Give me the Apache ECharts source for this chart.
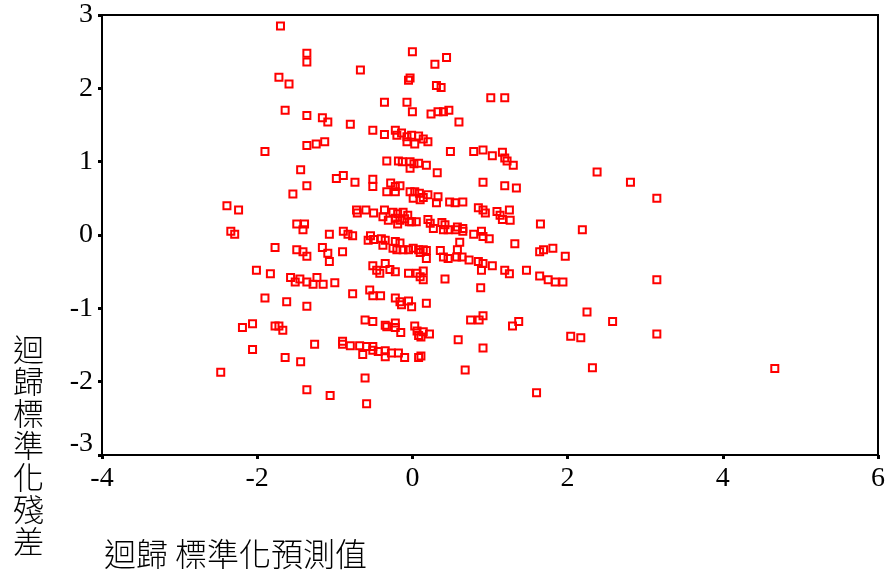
<!DOCTYPE html>
<html><head><meta charset="utf-8">
<script src="https://cdn.jsdelivr.net/npm/echarts@6/dist/echarts.min.js"></script>
<style>html,body{margin:0;padding:0;background:#fff}#c{width:888px;height:580px}</style>
</head><body><div id="c"></div><script>
// [predicted (standardized), residual (standardized)]
const leftUpper = [[-1.70,2.85],[-1.36,2.48],[-1.36,2.36],[-1.72,2.15],[-1.59,2.06],[-1.64,1.70],[-1.36,1.63],[-1.16,1.60],[-1.09,1.54],[-1.36,1.22],[-1.24,1.24],[-1.13,1.27],[-1.90,1.14]];
const centerUpper = [[0.00,2.50],[0.44,2.42],[0.29,2.33],[-0.67,2.25],[-0.03,2.14],[-0.05,2.11],[0.31,2.04],[0.37,2.01],[-0.36,1.81],[-0.07,1.81],
[0.00,1.68],[0.24,1.65],[0.33,1.68],[0.40,1.68],[0.47,1.70],[-0.80,1.51],[-0.51,1.43],[0.60,1.54],[-0.36,1.37],[-0.22,1.43],
[-0.20,1.36],[-0.14,1.39],[-0.07,1.34],[-0.01,1.36],[0.08,1.35],[0.14,1.31],[0.20,1.27],[0.03,1.24],[-0.07,1.27],[0.49,1.14],
[-0.33,1.01],[-0.18,1.01],[-0.13,1.00],[-0.03,1.00],[0.02,0.97],[0.08,0.98],[0.18,0.95],[-0.03,0.91],[0.32,0.85]];
const rightUpper = [[1.01,1.87],[1.19,1.87],[0.79,1.14],[0.91,1.16],[1.03,1.08],[1.16,1.13],[1.19,1.05],[1.22,1.01],[1.30,0.95]];
const leftMiddle = [[-1.44,0.89],[-1.36,0.67],[-1.54,0.56],[-2.39,0.40],[-2.24,0.34],[-1.49,0.15],[-1.39,0.15],[-1.41,0.07],[-2.34,0.05],[-2.29,0.01],
[-1.07,0.01],[-1.77,-0.17],[-1.49,-0.20],[-1.41,-0.23],[-1.36,-0.29],[-1.16,-0.17],[-1.09,-0.25],[-1.07,-0.36],[-2.01,-0.48],[-1.83,-0.53],
[-1.57,-0.58],[-1.51,-0.64],[-1.45,-0.60],[-1.36,-0.64],[-1.28,-0.67],[-1.23,-0.58],[-1.15,-0.67],[-1.90,-0.86],[-1.62,-0.91],[-1.36,-0.97]];
const centerMiddle = [[-0.98,0.77],[-0.89,0.81],[-0.74,0.72],[-0.51,0.76],[-0.51,0.66],[-0.28,0.71],[-0.22,0.66],[-0.16,0.67],[-0.33,0.59],[-0.22,0.59],
[-0.03,0.59],[0.03,0.59],[0.09,0.57],[0.01,0.50],[0.14,0.51],[0.20,0.55],[0.10,0.48],[0.33,0.52],[0.31,0.44],[0.48,0.45],
[0.55,0.44],[-0.72,0.34],[-0.60,0.34],[-0.71,0.30],[-0.50,0.30],[-0.36,0.34],[-0.38,0.25],[-0.25,0.31],[-0.19,0.29],[-0.12,0.31],
[-0.06,0.27],[-0.22,0.23],[-0.16,0.20],[-0.10,0.22],[-0.01,0.18],[-0.31,0.20],[-0.19,0.15],[-0.04,0.18],[0.05,0.18],[0.20,0.21],
[0.23,0.16],[0.38,0.17],[0.42,0.14],[0.27,0.09],[0.46,0.07],[0.40,0.07],[0.56,0.07],[0.58,0.11],[-0.89,0.05],[-0.83,0.01],
[-0.77,-0.01],[-0.54,-0.01],[-0.50,-0.06],[-0.57,-0.07],[-0.40,-0.05],[-0.35,-0.07],[-0.38,-0.14],[-0.22,-0.09],[-0.16,-0.11],[-0.25,-0.18],
[-0.20,-0.20],[-0.12,-0.20],[-0.05,-0.20],[0.01,-0.18],[0.08,-0.20],[0.14,-0.20],[0.18,-0.21],[0.10,-0.24],[0.18,-0.32],[0.36,-0.21],
[0.40,-0.30],[0.46,-0.32],[0.57,-0.30],[0.58,-0.20],[-0.90,-0.23],[-0.51,-0.42],[-0.46,-0.48],[-0.35,-0.39],[-0.42,-0.52],[-0.29,-0.47],
[-0.22,-0.50],[-0.05,-0.52],[0.06,-0.52],[0.10,-0.57],[0.14,-0.49],[0.14,-0.61],[0.42,-0.60],[-1.00,-0.65],[-0.77,-0.80],[-0.55,-0.75],
[-0.51,-0.83],[-0.41,-0.83],[-0.22,-0.86],[-0.16,-0.91],[-0.05,-0.90],[-0.14,-0.95],[-0.01,-0.98],[0.18,-0.93]];
const rightMiddle = [[2.38,0.86],[0.91,0.72],[1.19,0.67],[1.34,0.64],[0.65,0.45],[0.85,0.37],[0.91,0.34],[0.94,0.30],[1.09,0.32],[1.13,0.27],
[1.16,0.21],[1.25,0.34],[1.26,0.20],[1.65,0.15],[2.19,0.07],[0.65,0.09],[0.65,0.05],[0.79,0.01],[0.89,0.05],[0.91,-0.02],
[0.99,-0.05],[0.61,-0.10],[1.32,-0.12],[1.64,-0.23],[1.69,-0.20],[1.81,-0.18],[1.97,-0.29],[0.64,-0.30],[0.73,-0.34],[0.85,-0.36],
[0.91,-0.39],[0.89,-0.48],[1.03,-0.42],[1.19,-0.48],[1.25,-0.53],[1.47,-0.48],[1.64,-0.56],[1.75,-0.61],[1.84,-0.64],[1.94,-0.64],
[0.88,-0.72],[2.25,-1.05]];
const leftLower = [[-2.19,-1.26],[-2.06,-1.21],[-1.77,-1.24],[-1.72,-1.24],[-1.67,-1.30],[-1.26,-1.49],[-2.06,-1.56],[-1.64,-1.67],[-1.44,-1.73],[-2.47,-1.87],
[-1.36,-2.11],[-1.06,-2.19]];
const centerLower = [[-0.61,-1.16],[-0.51,-1.18],[-0.35,-1.23],[-0.33,-1.25],[-0.22,-1.20],[-0.22,-1.26],[-0.15,-1.33],[0.03,-1.24],[0.06,-1.31],[0.14,-1.32],
[0.22,-1.35],[0.08,-1.37],[0.11,-1.39],[0.59,-1.43],[-0.90,-1.45],[-0.90,-1.49],[-0.80,-1.51],[-0.68,-1.51],[-0.64,-1.63],[-0.59,-1.52],
[-0.51,-1.52],[-0.51,-1.57],[-0.44,-1.59],[-0.35,-1.58],[-0.35,-1.66],[-0.27,-1.61],[-0.18,-1.61],[-0.10,-1.67],[0.08,-1.67],[0.11,-1.65],
[-0.61,-1.95],[-0.59,-2.30]];
const rightLower = [[0.75,-1.16],[0.86,-1.16],[0.91,-1.10],[1.29,-1.24],[1.37,-1.18],[2.04,-1.38],[2.17,-1.40],[0.91,-1.54],[0.68,-1.84],[2.32,-1.81],[1.60,-2.15]];
const farRight = [[2.81,0.72],[3.15,0.50],[3.15,-0.61],[2.58,-1.18],[3.15,-1.35],[4.67,-1.82]];

const xTicks = [-4, -2, 0, 2, 4, 6];
const yTicks = [-3, -2, -1, 0, 1, 2, 3];
const xTitle = '迴歸 標準化預測值';
const yTitleTop = '迴\n歸';
const yTitleBottom = '標\n準\n化\n殘\n差';

const allPoints = [].concat(leftUpper, centerUpper, rightUpper, leftMiddle, centerMiddle, rightMiddle, leftLower, centerLower, rightLower, farRight);

const chart = echarts.init(document.getElementById('c'), null, {renderer: 'canvas'});
const tickFont = {color: '#000', fontFamily: '"Liberation Serif", serif', fontSize: 28};
chart.setOption({
  animation: false,
  grid: {left: 102, right: 10, top: 15, bottom: 125, show: true, borderColor: '#000', borderWidth: 2, backgroundColor: 'transparent'},
  xAxis: {
    type: 'value', min: xTicks[0], max: xTicks[xTicks.length - 1], interval: xTicks[1] - xTicks[0],
    axisLine: {show: true, onZero: false, lineStyle: {color: '#000', width: 2}},
    axisTick: {show: true, inside: false, length: 4, lineStyle: {color: '#000', width: 3}},
    axisLabel: Object.assign({margin: 10}, tickFont),
    splitLine: {show: false}
  },
  yAxis: {
    type: 'value', min: yTicks[0], max: yTicks[yTicks.length - 1], interval: yTicks[1] - yTicks[0],
    axisLine: {show: true, onZero: false, lineStyle: {color: '#000', width: 2}},
    axisTick: {show: true, inside: false, length: 4, lineStyle: {color: '#000', width: 3}},
    axisLabel: Object.assign({margin: 9,
      formatter: function (v) { return v === yTicks[0] ? '{lo|' + v + '}' : String(v); },
      rich: {lo: {fontFamily: '"Liberation Serif", serif', fontSize: 28, color: '#000', padding: [0, 0, 22, 0]}}
    }, tickFont),
    splitLine: {show: false}
  },
  series: [{
    type: 'scatter', data: allPoints, symbol: 'rect', symbolSize: 7, silent: true,
    itemStyle: {color: 'rgba(0,0,0,0)', borderColor: '#ff0000', borderWidth: 2, opacity: 1},
    emphasis: {disabled: true}
  }],
  graphic: [
    {type: 'text', left: 104, top: 538, style: {text: xTitle, fontFamily: '"Noto Sans CJK TC"', fontWeight: 300, fontSize: 32, fill: '#000'}},
    {type: 'text', left: 13, top: 333, style: {text: yTitleTop, fontFamily: '"Noto Sans CJK TC"', fontWeight: 300, fontSize: 31, lineHeight: 32, fill: '#000'}},
    {type: 'text', left: 13, top: 397, style: {text: yTitleBottom, fontFamily: '"Noto Sans CJK TC"', fontWeight: 300, fontSize: 31, lineHeight: 32, fill: '#000'}}
  ]
});
</script></body></html>
